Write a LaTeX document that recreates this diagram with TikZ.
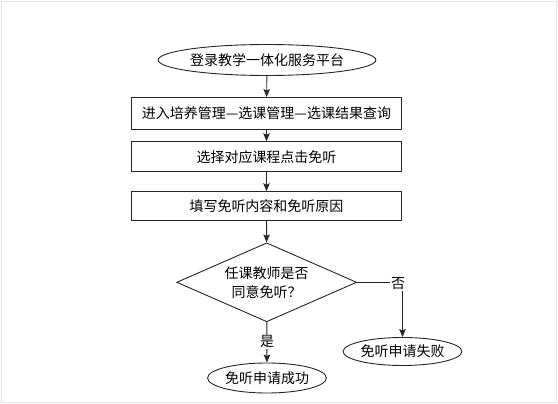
\documentclass[tikz,border=0pt]{standalone}
\usepackage{fontspec}
\newfontfamily\cjk{Noto Sans CJK SC}
\usetikzlibrary{shapes.geometric,arrows.meta}
\begin{document}
\begin{tikzpicture}[x=1pt,y=-1pt,
  base/.style={draw=black!85,line width=0.9pt,inner sep=0pt,font=\cjk\fontsize{14pt}{19pt}\selectfont,align=center},
  term/.style={base,ellipse},
  proc/.style={base,rectangle,minimum width=270pt},
  dec/.style={base,diamond,minimum width=180pt,minimum height=79pt,aspect=2.28},
  lbl/.style={fill=white,inner sep=1pt,font=\cjk\fontsize{14pt}{16pt}\selectfont},
  conn/.style={draw=black!85,line width=0.9pt,-{Stealth[length=8pt,width=6.5pt,inset=1.5pt]}}]
\useasboundingbox (0,0) rectangle (558,404);
\draw[black!10,line width=1pt] (1.5,1.5) rectangle (556.5,402.5);
\node[term,minimum width=208pt,minimum height=31pt] (start) at (267,60) {登录教学一体化服务平台};
\node[proc,minimum height=32pt] (r1) at (266.5,113.5) {进入培养管理—选课管理—选课结果查询};
\node[proc,minimum height=30pt] (r2) at (266.5,156.7) {选择对应课程点击免听};
\node[proc,minimum height=29pt] (r3) at (266.5,206.2) {填写免听内容和免听原因};
\node[dec] (dia) at (266.7,282.3) {任课教师是否\\同意免听？};
\node[term,minimum width=109pt,minimum height=30pt] (yes) at (267,378) {免听申请成功};
\node[term,minimum width=110pt,minimum height=28pt] (no) at (402.5,351.5) {免听申请失败};
\draw[conn] (start) -- (r1);
\draw[conn] (r1) -- (r2);
\draw[conn] (r2) -- (r3);
\draw[conn] (r3) -- (dia);
\draw[conn] (dia) -- (yes);
\coordinate (corner) at (no.north |- dia.east);
\draw[conn] (dia.east) -- (corner) -- (no.north);
\node[lbl] (ylbl) at (267,341.7) {是};
\node[lbl] (nlbl) at (398,284) {否};
\end{tikzpicture}
\end{document}
